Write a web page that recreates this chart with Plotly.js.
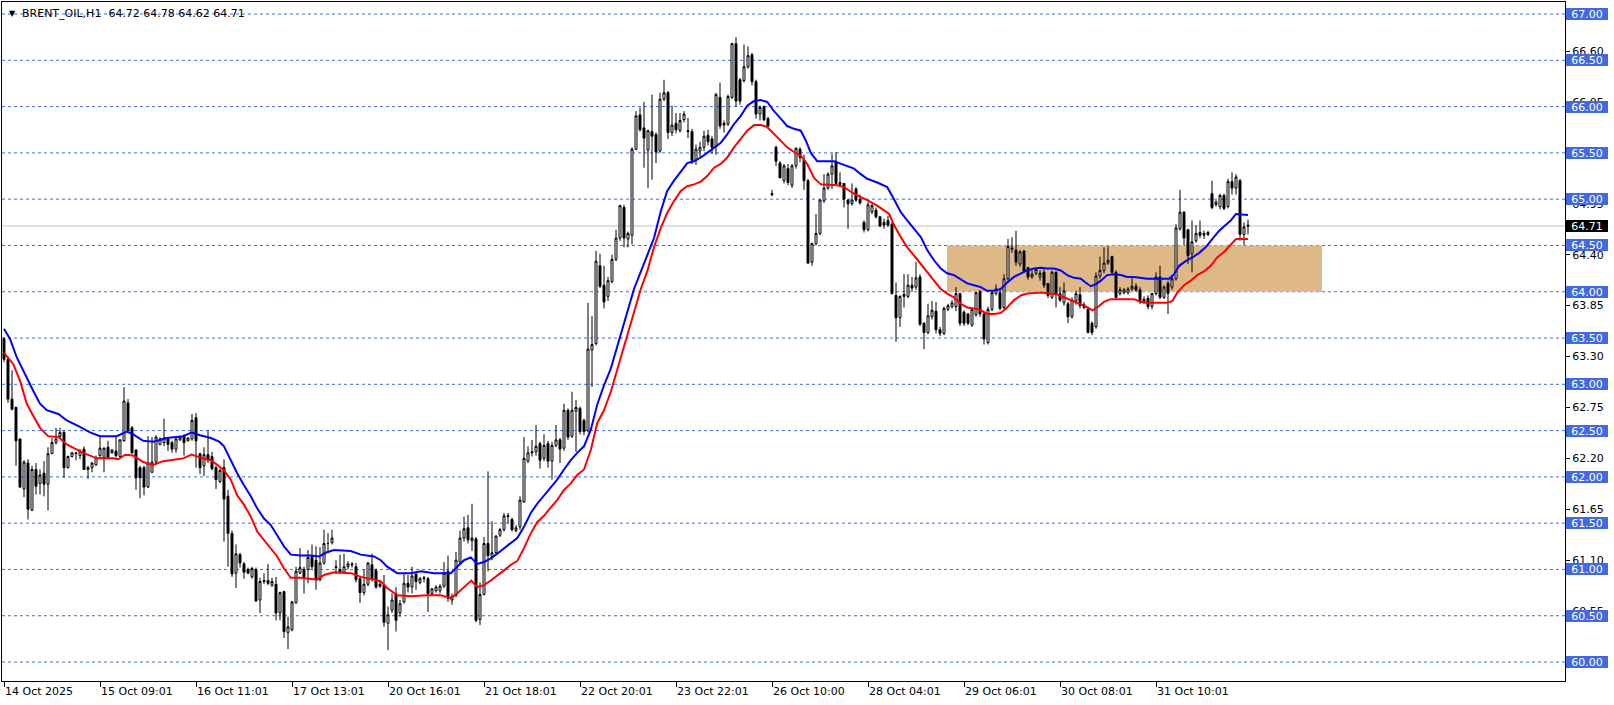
<!DOCTYPE html>
<html>
<head>
<meta charset="utf-8">
<script src="https://cdn.plot.ly/plotly-3.0.1.min.js"></script>
<style>
html,body{margin:0;padding:0;background:#fff;}
#chart{width:1614px;height:705px;}
</style>
</head>
<body>
<div id="chart"></div>
<script>
// ---- hourly bars (open / high / low / close) ----
const barOpen = [63.49,63.27,62.84,62.75,62.41,61.87,62.15,61.64,62.08,61.93,62.04,61.92,62.25,62.37,62.44,62.48,62.10,62.22,62.25,62.23,
62.30,62.08,62.10,62.13,62.23,62.21,62.32,62.26,62.28,62.22,62.39,62.80,62.53,62.29,62.10,62.10,61.89,62.05,62.16,62.35,
62.37,62.41,62.37,62.30,62.40,62.44,62.39,62.41,62.64,62.25,62.12,62.24,62.22,62.10,61.95,62.10,61.79,61.39,60.96,61.16,
61.06,61.00,60.92,61.00,60.67,60.87,60.88,60.83,60.84,60.53,60.76,60.32,60.35,60.64,60.96,61.00,61.00,61.14,61.10,60.89,
61.07,61.28,61.29,61.02,61.00,60.97,61.03,61.06,61.03,60.90,60.75,60.84,61.05,60.99,60.84,60.83,60.42,60.56,60.74,60.53,
60.65,60.85,60.81,60.95,60.86,60.90,60.90,60.74,60.77,60.77,60.82,60.98,60.67,60.72,61.08,61.34,61.45,61.31,61.33,60.46,
60.73,61.28,61.14,61.18,61.37,61.43,61.57,61.54,61.42,61.46,61.73,62.17,62.26,62.27,62.36,62.20,62.36,62.17,62.34,62.40,
62.31,62.72,62.44,62.71,62.74,62.61,62.50,63.37,63.44,64.28,64.07,63.95,64.11,64.35,64.58,64.91,64.57,64.61,65.54,65.91,
65.77,65.53,65.73,65.70,65.52,66.08,66.15,65.72,65.82,65.74,65.86,65.74,65.73,65.42,65.52,65.56,65.69,65.65,65.57,66.10,
65.82,65.81,66.10,66.68,66.29,66.28,66.43,66.56,66.27,65.92,66.00,65.87,65.06,65.56,65.39,65.20,65.33,65.15,65.36,65.54,
65.42,65.20,64.32,64.52,64.63,64.98,65.12,65.27,65.41,65.18,65.17,64.99,64.95,65.11,65.00,64.75,64.67,64.86,64.88,64.81,
64.75,64.77,64.73,63.96,63.72,63.95,63.95,64.07,64.05,64.16,63.66,63.56,63.73,63.79,63.59,63.55,63.81,63.84,63.84,63.98,
63.78,63.76,63.64,63.75,64.00,63.76,63.45,63.81,63.98,63.99,63.83,64.14,64.46,64.45,64.30,64.44,64.26,64.16,64.20,64.16,
64.21,64.09,63.94,64.21,63.98,63.88,63.87,63.73,63.90,63.97,63.86,63.81,63.66,63.62,64.17,64.23,64.31,64.38,64.21,63.98,
63.99,63.99,64.03,64.06,64.02,63.89,63.93,63.84,63.98,64.16,63.94,64.09,64.05,64.14,64.68,64.86,64.67,64.41,64.55,64.64,
64.61,64.64,65.06,64.94,64.92,65.04,64.92,65.19,65.12,65.20,64.62,64.72];
const barHigh = [63.51,63.30,63.15,62.76,62.41,62.18,62.19,62.12,62.15,62.08,62.17,62.32,62.42,62.53,62.53,62.50,62.23,62.27,62.26,62.30,
62.33,62.12,62.16,62.23,62.43,62.32,62.39,62.30,62.43,62.41,62.97,62.84,62.55,62.30,62.12,62.12,62.44,62.43,62.45,62.43,
62.63,62.43,62.39,62.43,62.44,62.46,62.43,62.68,62.69,62.26,62.32,62.50,62.27,62.12,62.09,62.19,61.86,61.42,61.27,61.18,
61.08,61.02,61.03,61.02,60.91,60.96,61.06,60.91,60.92,60.76,60.77,60.49,60.66,61.03,61.23,61.03,61.21,61.27,61.25,61.24,
61.43,61.39,61.43,61.10,61.16,61.17,61.09,61.08,61.07,60.92,61.00,61.08,61.17,61.01,60.89,60.94,60.60,60.74,60.81,60.67,
60.96,60.94,61.03,60.97,60.92,60.93,60.92,60.80,60.83,60.84,61.08,61.15,60.74,61.19,61.42,61.57,61.59,61.71,61.35,60.86,
61.35,62.06,61.52,61.37,61.45,61.61,61.61,61.56,61.48,61.79,62.43,62.33,62.40,62.56,62.38,62.46,62.39,62.38,62.56,62.42,
62.79,62.74,62.92,62.83,62.76,62.63,63.88,63.74,64.44,64.41,64.28,64.16,64.40,64.67,64.94,64.94,64.65,65.56,65.95,65.99,
66.05,65.75,66.13,65.72,66.15,66.29,66.17,66.01,65.93,65.93,65.95,65.88,65.76,65.59,65.62,65.74,65.75,65.68,66.15,66.26,
65.85,66.13,66.69,66.75,66.31,66.67,66.65,66.58,66.29,66.01,66.01,65.89,65.10,65.58,65.41,65.38,65.38,65.38,65.56,65.56,
65.48,65.22,64.53,64.84,65.00,65.27,65.29,65.49,65.51,65.29,65.17,65.00,65.17,65.13,65.05,64.77,64.97,64.95,64.91,64.82,
64.79,64.82,64.75,64.10,63.96,64.19,64.19,64.16,64.32,64.19,63.67,63.87,63.90,63.89,63.62,63.84,63.87,63.91,64.05,63.99,
63.80,63.77,63.82,64.00,64.02,63.78,63.84,64.00,64.08,64.03,64.19,64.57,64.59,64.66,64.45,64.45,64.27,64.23,64.26,64.23,
64.25,64.09,64.23,64.22,64.05,64.10,63.89,63.94,64.01,64.05,63.89,63.83,63.68,64.21,64.38,64.48,64.49,64.39,64.23,64.05,
64.04,64.05,64.16,64.09,64.05,63.95,63.96,63.99,64.21,64.28,64.07,64.12,64.16,64.73,65.10,64.87,64.68,64.77,64.72,64.77,
64.66,64.66,65.20,64.99,65.06,65.06,65.22,65.29,65.27,65.22,64.75,64.78];
const barLow = [63.24,62.80,62.72,62.12,61.88,61.78,61.54,61.63,61.81,61.81,61.79,61.64,62.25,62.35,62.42,61.99,62.09,62.21,62.18,62.19,
62.08,61.98,62.05,62.12,62.20,62.05,62.20,62.25,62.21,62.21,62.38,62.48,62.25,61.86,61.77,61.80,61.88,62.04,62.14,62.34,
62.33,62.28,62.26,62.26,62.39,62.23,62.38,62.39,62.10,62.03,62.01,62.15,62.07,61.87,61.93,61.30,61.03,60.92,60.80,61.02,
60.90,60.95,60.90,60.65,60.53,60.84,60.83,60.81,60.45,60.45,60.26,60.14,60.33,60.63,60.95,60.74,60.85,60.99,60.78,60.87,
61.05,61.19,61.27,60.95,60.95,60.95,61.00,61.02,60.86,60.64,60.72,60.82,60.87,60.79,60.80,60.38,60.13,60.53,60.33,60.49,
60.63,60.75,60.74,60.78,60.84,60.86,60.54,60.72,60.75,60.74,60.80,60.65,60.62,60.70,61.06,61.30,61.28,61.20,60.43,60.40,
60.72,60.98,61.10,61.16,61.35,61.41,61.50,61.41,61.40,61.43,61.72,62.15,62.22,62.23,62.09,62.17,62.10,61.97,62.32,62.15,
62.28,62.40,62.42,62.27,62.46,62.45,62.48,62.97,63.42,64.04,63.82,63.90,64.09,64.33,64.55,64.48,64.48,64.51,65.53,65.73,
65.34,65.12,65.21,65.39,65.50,66.06,65.65,65.68,65.71,65.72,65.83,65.66,65.38,65.37,65.45,65.52,65.58,65.49,65.48,65.76,
65.72,65.79,66.08,66.00,66.02,66.26,66.41,66.23,65.87,65.85,65.84,65.76,65.03,65.36,65.23,65.17,65.15,65.12,65.33,65.40,
65.10,64.30,64.28,64.50,64.61,64.96,65.10,65.11,65.15,65.14,64.91,64.68,64.93,64.97,64.94,64.64,64.65,64.84,64.79,64.70,
64.68,64.70,63.97,63.46,63.62,63.83,63.93,64.00,64.02,63.63,63.38,63.54,63.70,63.55,63.52,63.53,63.79,63.82,63.79,63.63,
63.63,63.64,63.62,63.73,63.73,63.43,63.43,63.79,63.96,63.80,63.81,64.12,64.42,64.28,64.27,64.20,64.13,64.14,64.18,64.12,
64.04,63.93,63.92,63.83,63.89,63.85,63.66,63.71,63.86,63.82,63.81,63.55,63.53,63.60,64.14,64.20,64.29,64.18,63.93,63.96,
63.97,63.97,64.01,64.00,63.87,63.87,63.81,63.81,63.96,63.92,63.92,63.76,64.02,64.12,64.66,64.50,64.30,64.21,64.53,64.58,
64.57,64.60,64.89,64.92,64.89,64.88,64.90,65.05,65.05,64.55,64.50,64.62];
const barClose = [63.27,62.84,62.73,62.39,61.89,62.16,61.65,62.08,61.90,62.02,61.92,62.25,62.37,62.41,62.48,62.10,62.22,62.26,62.26,62.28,
62.08,62.10,62.15,62.21,62.31,62.31,62.21,62.29,62.23,62.40,62.82,62.50,62.26,61.99,61.99,61.89,62.15,62.16,62.43,62.41,
62.42,62.35,62.30,62.41,62.43,62.37,62.42,62.61,62.39,62.10,62.24,62.18,62.09,61.97,62.07,61.76,61.39,60.95,61.17,61.07,
60.97,60.96,61.01,60.66,60.87,60.88,60.85,60.87,60.53,60.75,60.33,60.38,60.65,60.98,61.02,60.92,61.13,61.03,60.89,61.07,
61.28,61.28,61.34,61.03,60.97,61.03,61.06,61.05,60.89,60.75,60.84,61.07,60.90,60.81,60.82,60.43,60.51,60.67,60.45,60.63,
60.85,60.81,60.93,60.87,60.90,60.91,60.74,60.79,60.81,60.82,60.96,60.69,60.71,61.10,61.34,61.44,61.32,61.34,60.45,60.73,
61.28,61.15,61.18,61.36,61.43,61.58,61.58,61.43,61.45,61.75,62.20,62.26,62.27,62.33,62.18,62.34,62.17,62.34,62.40,62.30,
62.72,62.43,62.72,62.75,62.49,62.49,63.38,63.43,64.33,64.06,63.89,64.12,64.35,64.58,64.93,64.58,64.63,65.54,65.90,65.75,
65.66,65.74,65.68,65.51,66.08,66.15,65.72,65.80,65.75,65.85,65.92,65.73,65.42,65.54,65.56,65.68,65.62,65.56,66.13,65.79,
65.80,66.11,66.68,66.06,66.06,66.43,66.55,66.27,65.92,65.99,65.86,65.79,65.05,65.41,65.23,65.36,65.18,65.36,65.55,65.45,
65.20,64.31,64.52,64.63,64.99,65.12,65.27,65.36,65.17,65.16,65.00,64.95,64.99,64.99,64.96,64.67,64.94,64.93,64.81,64.71,
64.72,64.72,63.98,63.72,63.95,63.97,64.07,64.04,64.15,63.65,63.56,63.74,63.80,63.59,63.55,63.82,63.85,63.88,63.98,63.66,
63.66,63.66,63.81,63.99,63.76,63.49,63.81,63.99,64.03,63.82,64.14,64.49,64.47,64.32,64.43,64.22,64.16,64.19,64.24,64.20,
64.07,63.96,64.21,63.98,63.91,64.01,63.73,63.91,63.98,63.85,63.83,63.56,63.56,64.17,64.23,64.31,64.34,64.21,63.94,64.02,
64.02,64.03,64.06,64.02,63.89,63.92,63.84,63.98,64.16,63.94,64.05,63.98,64.14,64.69,64.86,64.58,64.39,64.54,64.63,64.61,
64.63,64.62,64.91,64.97,65.04,64.90,65.19,65.12,65.24,64.62,64.70,64.71];

// ---- indicator lines, readings (bar position, price) ----
const blueMaX = [0,1.5,3.2,4.8,5.7,7.3,9,10.7,13.6,15.7,19,21.5,24,28.2,30.7,32.3,34.8,37.3,40.7,44.8,46.9,49,51.7,53.8,55,56.7,58.3,60,61.7,63.3,65,66.7,68.3,70,71.7,74.2,76.7,78.8,80.4,82.5,86.7,89.2,92.5,94.2,95.8,98.3,101.7,104.2,107.5,110,111.7,113.3,115,116.7,118.3,120,121.7,123.3,125,126.7,128.3,130,131.7,133.3,135,136.7,138.3,140,141.7,143.3,145,146.7,148.3,150,151.7,157.5,159.2,160.8,162.5,164.2,165.8,167.5,169.2,170.8,172.5,174.2,175.8,177.5,179.2,180.8,182.5,184.2,185.8,187.5,189.2,190.8,192.5,194.2,195.8,197.5,199.2,200.4,201.7,203.3,207.5,210,212.5,214.2,215.8,218.3,220.8,222.5,224.2,225.8,227.5,229.2,230.8,232.5,234.2,235.8,237.5,239.2,240.8,242.5,244.2,245.8,247.5,249.2,250.8,252.5,254.2,255.8,257.5,259.2,260.8,262.5,264.2,265.8,267.5,269.2,270.4,271.7,272.9,274.2,275.8,277.5,279.2,280.8,282.5,284.2,285.8,287.5,289.2,291.3,292.5,293.8,295.4,297.1,298.8,300.4,302.1,303.8,305.4,306.7,308,311];
const blueMa = [63.60,63.49,63.29,63.15,63.06,62.93,62.79,62.72,62.68,62.61,62.54,62.48,62.44,62.44,62.49,62.46,62.39,62.38,62.42,62.44,62.48,62.45,62.42,62.38,62.33,62.18,62.04,61.91,61.79,61.66,61.55,61.48,61.37,61.25,61.16,61.15,61.15,61.14,61.18,61.21,61.20,61.16,61.14,61.10,61.03,60.96,60.96,60.98,60.96,60.96,60.96,61.03,61.10,61.13,61.06,61.08,61.12,61.17,61.23,61.28,61.34,61.46,61.61,61.71,61.80,61.89,61.97,62.08,62.18,62.26,62.33,62.51,62.78,62.99,63.17,64.03,64.22,64.40,64.58,64.87,65.09,65.20,65.30,65.39,65.41,65.45,65.50,65.56,65.61,65.70,65.81,65.90,66.01,66.06,66.07,66.05,65.95,65.87,65.79,65.76,65.74,65.64,65.50,65.41,65.41,65.37,65.33,65.27,65.22,65.18,65.13,65.00,64.86,64.77,64.68,64.59,64.45,64.34,64.25,64.20,64.18,64.13,64.09,64.07,64.05,64.01,64.01,64.03,64.10,64.16,64.20,64.23,64.25,64.26,64.25,64.25,64.23,64.18,64.15,64.14,64.10,64.06,64.08,64.12,64.18,64.19,64.18,64.16,64.16,64.15,64.14,64.14,64.14,64.14,64.19,64.28,64.33,64.37,64.42,64.48,64.57,64.66,64.72,64.77,64.84,64.83];
const redMaX = [0,2.3,4,5.7,7.3,9,11,13.6,15.7,19.8,23.2,27.3,28.6,30.3,32.3,34.8,37.3,39.8,44.8,46.9,49,51.7,53.3,55,56.7,58.3,60,61.7,63.3,65,66.7,68.3,70,71.7,74.2,76.7,78.3,80,82.5,86.7,89.2,92.5,94.2,95.8,98.3,101.7,105.8,109.2,111.7,113.3,115,116.8,118.3,120,121.7,123.3,125,126.7,128.3,130,131.7,133.3,135,136.7,138.3,140,141.7,143.3,145,146.7,148.3,150,151.7,159.2,160.8,162.5,164.2,165.8,167.5,169.2,170.8,172.5,174.2,175.8,177.5,179.2,180.8,182.5,184.2,185.8,187.5,189.2,190.8,192.5,194.2,195.8,197.5,199.2,200.8,202.5,204.2,208.3,210,211.7,213.3,215.8,218.3,221.3,222.5,224.2,225.8,227.9,230,232.5,234.2,235.8,237.5,239.2,240.8,242.5,244.2,245.8,247.5,249.2,250.8,252.5,254.2,255.8,258.3,260,261.7,263.3,265,266.7,268.3,270,271.3,272.1,273.3,275,276.7,278.3,280.8,282.5,284.2,285.8,287.5,289.2,290.8,292.1,293.3,295,296.7,298.3,300,301.7,303.3,305,306.7,308,311];
const redMa = [63.34,63.22,63.04,62.79,62.66,62.53,62.44,62.43,62.35,62.26,62.20,62.20,62.19,62.24,62.23,62.16,62.13,62.17,62.20,62.24,62.21,62.18,62.13,62.07,61.97,61.80,61.70,61.57,61.41,61.32,61.23,61.14,61.01,60.91,60.91,60.90,60.89,60.94,60.97,60.96,60.92,60.89,60.87,60.80,60.72,60.71,60.72,60.72,60.69,60.74,60.81,60.88,60.81,60.83,60.88,60.93,60.99,61.05,61.09,61.23,61.39,61.51,61.58,61.67,61.75,61.86,61.93,62.02,62.08,62.29,62.58,62.72,62.92,64.03,64.22,64.48,64.69,64.85,64.98,65.09,65.14,65.16,65.19,65.25,65.34,65.38,65.45,65.56,65.65,65.74,65.80,65.80,65.78,65.70,65.63,65.56,65.51,65.47,65.38,65.23,65.16,65.15,65.13,65.08,65.04,64.99,64.93,64.84,64.72,64.59,64.48,64.37,64.25,64.12,64.03,63.98,63.94,63.87,63.83,63.82,63.80,63.76,63.76,63.77,63.83,63.91,63.96,63.98,63.99,63.99,63.98,63.97,63.94,63.91,63.88,63.85,63.82,63.80,63.83,63.89,63.92,63.92,63.92,63.92,63.89,63.88,63.88,63.88,63.88,63.90,63.99,64.07,64.12,64.18,64.22,64.28,64.37,64.43,64.51,64.57,64.57];

// ---- labels ----
const timeTickBars = [0,24,48,72,96,120,144,168,192,216,240,264,288];
const timeTickLabels = ['14 Oct 2025','15 Oct 09:01','16 Oct 11:01','17 Oct 13:01','20 Oct 16:01','21 Oct 18:01','22 Oct 20:01','23 Oct 22:01','26 Oct 10:00','28 Oct 04:01','29 Oct 06:01','30 Oct 08:01','31 Oct 10:01'];
const scalePrices = [66.60,66.05,65.50,64.95,64.40,63.85,63.30,62.75,62.20,61.65,61.10,60.55];
const levelPrices = [67.00,66.50,66.00,65.50,65.00,64.50,64.00,63.50,63.00,62.50,62.00,61.50,61.00,60.50,60.00];
const lastPrice = 64.71;
const zoneLow = 64.00, zoneHigh = 64.50;
const headerSymbol = 'BRENT_OIL,H1';
const headerOHLC = [64.72, 64.78, 64.62, 64.71];

const FONT = 'DejaVu Sans';
const barIndex = barOpen.map((_, i) => i);

const traces = [
  {
    type: 'candlestick', x: barIndex,
    open: barOpen, high: barHigh, low: barLow, close: barClose,
    increasing: {line: {color: '#000000', width: 1}, fillcolor: '#FFFFFF'},
    decreasing: {line: {color: '#000000', width: 1}, fillcolor: '#000000'},
    whiskerwidth: 0, hoverinfo: 'skip', showlegend: false
  },
  {type: 'scatter', mode: 'lines', x: blueMaX, y: blueMa, line: {color: '#0000FF', width: 2}, hoverinfo: 'skip', showlegend: false},
  {type: 'scatter', mode: 'lines', x: redMaX, y: redMa, line: {color: '#FF0000', width: 2}, hoverinfo: 'skip', showlegend: false}
];

const shapes = [];
shapes.push({type: 'rect', layer: 'below', xref: 'x', yref: 'y', x0: 235.75, x1: 329.5, y0: zoneLow, y1: zoneHigh,
  fillcolor: '#DEB887', line: {width: 0}});
levelPrices.forEach(p => shapes.push({type: 'line', layer: 'below', xref: 'paper', yref: 'y', x0: 0, x1: 1, y0: p, y1: p,
  line: {color: '#4169E1', width: 1, dash: 'dot'}}));
shapes.push({type: 'line', layer: 'below', xref: 'paper', yref: 'y', x0: 0, x1: 1, y0: lastPrice, y1: lastPrice,
  line: {color: '#C0C0C0', width: 1}});

const annotations = [];
scalePrices.forEach(() => {});
levelPrices.forEach(p => annotations.push({
  xref: 'paper', yref: 'y', x: 1, y: p, xanchor: 'left', yanchor: 'middle', xshift: 1,
  text: p.toFixed(2), showarrow: false, bgcolor: '#4169E1', borderwidth: 0, borderpad: 0,
  width: 42, height: 12, align: 'center', font: {family: FONT, size: 11, color: '#FFFFFF'}
}));
annotations.push({
  xref: 'paper', yref: 'y', x: 1, y: lastPrice, xanchor: 'left', yanchor: 'middle', xshift: 1,
  text: lastPrice.toFixed(2), showarrow: false, bgcolor: '#000000', borderwidth: 0, borderpad: 0,
  width: 42, height: 12, align: 'center', font: {family: FONT, size: 11, color: '#FFFFFF'}
});
annotations.push({
  xref: 'paper', yref: 'paper', x: 0, y: 1, xanchor: 'left', yanchor: 'middle', xshift: 5, yshift: -11,
  text: '\u25BC', showarrow: false, font: {family: FONT, size: 8, color: '#000000'}
});
annotations.push({
  xref: 'paper', yref: 'paper', x: 0, y: 1, xanchor: 'left', yanchor: 'middle', xshift: 18, yshift: -11,
  text: headerSymbol + '\u00a0\u00a0' + headerOHLC.map(v => v.toFixed(2)).join(' '),
  showarrow: false, font: {family: FONT, size: 11, color: '#000000'}
});

const layout = {
  width: 1614, height: 705,
  margin: {l: 2, r: 49, t: 2, b: 24, pad: 0},
  paper_bgcolor: '#FFFFFF', plot_bgcolor: '#FFFFFF',
  showlegend: false, hovermode: false, dragmode: false,
  font: {family: FONT, size: 11, color: '#000000'},
  xaxis: {
    range: [-0.5, 390.25], rangeslider: {visible: false},
    tickmode: 'array', tickvals: timeTickBars, ticktext: timeTickLabels,
    ticks: 'outside', ticklen: 5, tickcolor: '#000000', tickwidth: 1,
    ticklabelposition: 'outside right',
    tickfont: {family: FONT, size: 11, color: '#000000'},
    showgrid: false, zeroline: false, showline: true, linecolor: '#000000', linewidth: 1, mirror: true,
    fixedrange: true
  },
  yaxis: {
    side: 'right', range: [59.795, 67.13],
    tickmode: 'array', tickvals: scalePrices, ticktext: scalePrices.map(v => v.toFixed(2)),
    ticks: 'outside', ticklen: 4, tickcolor: '#000000', tickwidth: 1,
    tickfont: {family: FONT, size: 11, color: '#000000'},
    showgrid: false, zeroline: false, showline: true, linecolor: '#000000', linewidth: 1, mirror: true,
    fixedrange: true
  },
  shapes: shapes,
  annotations: annotations
};

Plotly.newPlot('chart', traces, layout, {displayModeBar: false, staticPlot: true});
</script>
</body>
</html>
